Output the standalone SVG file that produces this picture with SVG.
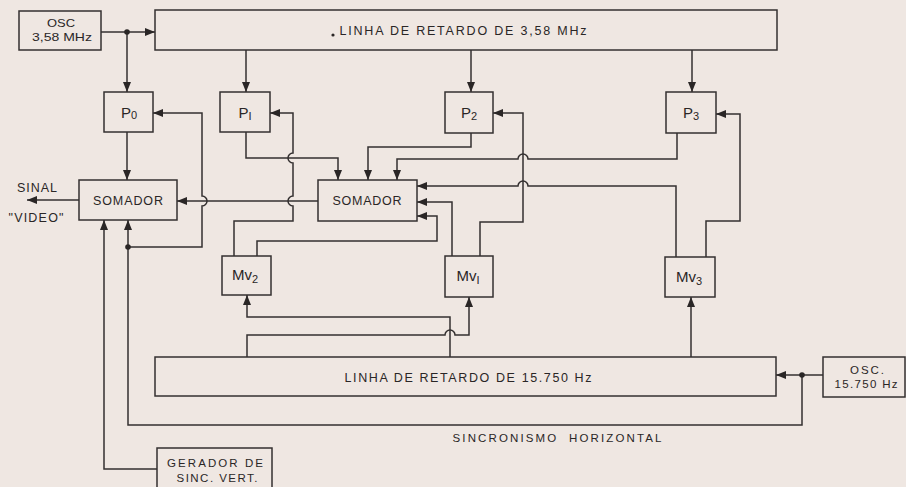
<svg xmlns="http://www.w3.org/2000/svg" width="906" height="487" viewBox="0 0 906 487">
<style>
.bx{fill:#efe7e2;stroke:#353131;stroke-width:1.5}
.ln{fill:none;stroke:#353131;stroke-width:1.5}
.ar{marker-end:url(#ah)}
text{font-family:"Liberation Sans","DejaVu Sans",sans-serif;fill:#2a2626;text-anchor:middle}
.t{font-size:12.5px}
.p{font-size:15px}
.s{font-size:11px}
.b{font-size:11.5px}
.dot{fill:#2a2626}
</style>
<defs>
<marker id="ah" viewBox="0 0 10 8" refX="10" refY="4" markerWidth="10" markerHeight="8" markerUnits="userSpaceOnUse" orient="auto">
<path d="M0,0 L10,4 L0,8 Z" fill="#2a2626"/>
</marker>
</defs>
<rect width="906" height="487" fill="#efe7e2"/>
<g id="connectors">
<path class="ln ar" d="M101,32 H155"/>
<path class="ln ar" d="M127,32 V92"/>
<path class="ln ar" d="M246,50 V92"/>
<path class="ln ar" d="M471,50 V92"/>
<path class="ln ar" d="M692,50 V92"/>
<path class="ln ar" d="M127,132 V180"/>
<path class="ln ar" d="M79,200 H27"/>
<path class="ln ar" d="M318,201 H177"/>
<path class="ln ar" d="M246,132 V158 H338 V180"/>
<path class="ln ar" d="M471,133 V147 H368 V180"/>
<path class="ln ar" d="M677,133 V159 H528 A5,5 0 0 0 518,159 H397 V180"/>
<path class="ln ar" d="M676,257 V186 H528 A5,5 0 0 0 518,186 H417"/>
<path class="ln ar" d="M452,256 V202 H417"/>
<path class="ln ar" d="M257,256 V241 H437 V216 H417"/>
<path class="ln ar" d="M234,256 V221 H293 V206 A5,5 0 0 1 293,196 V163 A5,5 0 0 1 293,153 V113 H270"/>
<path class="ln ar" d="M480,256 V222 H523 V113 H493"/>
<path class="ln ar" d="M706,257 V221 H740 V114 H716"/>
<path class="ln ar" d="M802,375 V425 H128 V220"/>
<path class="ln ar" d="M128,247 H202 V206 A5,5 0 0 0 202,196 V113 H153"/>
<path class="ln ar" d="M157,469 H104 V220"/>
<path class="ln ar" d="M823,375 H776"/>
<path class="ln ar" d="M450,357 V317 H247 V295"/>
<path class="ln ar" d="M247,357 V335 H445 A5,5 0 0 1 455,335 H469 V297"/>
<path class="ln ar" d="M691,357 V297"/>
<circle class="dot" cx="127" cy="32" r="2.8"/>
<circle class="dot" cx="128" cy="247" r="2.8"/>
<circle class="dot" cx="802" cy="375" r="2.8"/>
</g>
<g id="osc358">
<rect class="bx" x="19" y="11" width="82" height="39"/>
<text class="s" x="61" y="27" textLength="28" lengthAdjust="spacingAndGlyphs">OSC</text>
<text class="s" x="62" y="41" textLength="60" lengthAdjust="spacingAndGlyphs">3,58 MHz</text>
</g>
<g id="linha358">
<rect class="bx" x="155" y="10" width="622" height="40"/>
<circle class="dot" cx="333" cy="35" r="1.6"/>
<text class="t" x="463" y="35" textLength="247" lengthAdjust="spacing">LINHA DE RETARDO DE 3,58 MHz</text>
</g>
<g id="p0">
<rect class="bx" x="104" y="92" width="49" height="40"/>
<text class="p" x="129" y="118">P<tspan class="s" dy="1">0</tspan></text>
</g>
<g id="p1">
<rect class="bx" x="220" y="92" width="50" height="40"/>
<text class="p" x="245" y="118">P<tspan class="s" dy="2">I</tspan></text>
</g>
<g id="p2">
<rect class="bx" x="445" y="92" width="48" height="41"/>
<text class="p" x="469" y="118">P<tspan class="s" dy="2">2</tspan></text>
</g>
<g id="p3">
<rect class="bx" x="666" y="92" width="50" height="41"/>
<text class="p" x="691" y="118">P<tspan class="s" dy="2">3</tspan></text>
</g>
<g id="somador-left">
<rect class="bx" x="79" y="180" width="98" height="40"/>
<text class="t" x="128" y="205" textLength="70" lengthAdjust="spacing">SOMADOR</text>
</g>
<g id="somador-center">
<rect class="bx" x="318" y="180" width="99" height="41"/>
<text class="t" x="367" y="205" textLength="69" lengthAdjust="spacing">SOMADOR</text>
</g>
<g id="sinal-video">
<text class="t" x="37" y="192" textLength="40" lengthAdjust="spacing">SINAL</text>
<text class="t" x="36" y="222" textLength="55" lengthAdjust="spacing">"VIDEO"</text>
</g>
<g id="mv2">
<rect class="bx" x="222" y="256" width="49" height="39"/>
<text class="p" x="245" y="280">Mv<tspan class="s" dy="3">2</tspan></text>
</g>
<g id="mv1">
<rect class="bx" x="445" y="256" width="48" height="41"/>
<text class="p" x="468" y="281">Mv<tspan class="s" dy="3">I</tspan></text>
</g>
<g id="mv3">
<rect class="bx" x="665" y="257" width="50" height="40"/>
<text class="p" x="689" y="282">Mv<tspan class="s" dy="3">3</tspan></text>
</g>
<g id="linha15750">
<rect class="bx" x="155" y="357" width="621" height="39"/>
<text class="t" x="468" y="382" textLength="247" lengthAdjust="spacing">LINHA DE RETARDO DE 15.750 Hz</text>
</g>
<g id="osc15750">
<rect class="bx" x="823" y="357" width="82" height="40"/>
<text class="b" x="867" y="374" textLength="34" lengthAdjust="spacing">OSC.</text>
<text class="b" x="866" y="388" textLength="63" lengthAdjust="spacing">15.750 Hz</text>
</g>
<g id="sinc-horizontal">
<text class="b" x="557" y="442" textLength="209" lengthAdjust="spacing" xml:space="preserve">SINCRONISMO  HORIZONTAL</text>
</g>
<g id="gerador">
<rect class="bx" x="157" y="448" width="115" height="50"/>
<text class="b" x="215" y="467" textLength="96" lengthAdjust="spacing">GERADOR DE</text>
<text class="b" x="217" y="482" textLength="81" lengthAdjust="spacing">SINC. VERT.</text>
</g>
</svg>
